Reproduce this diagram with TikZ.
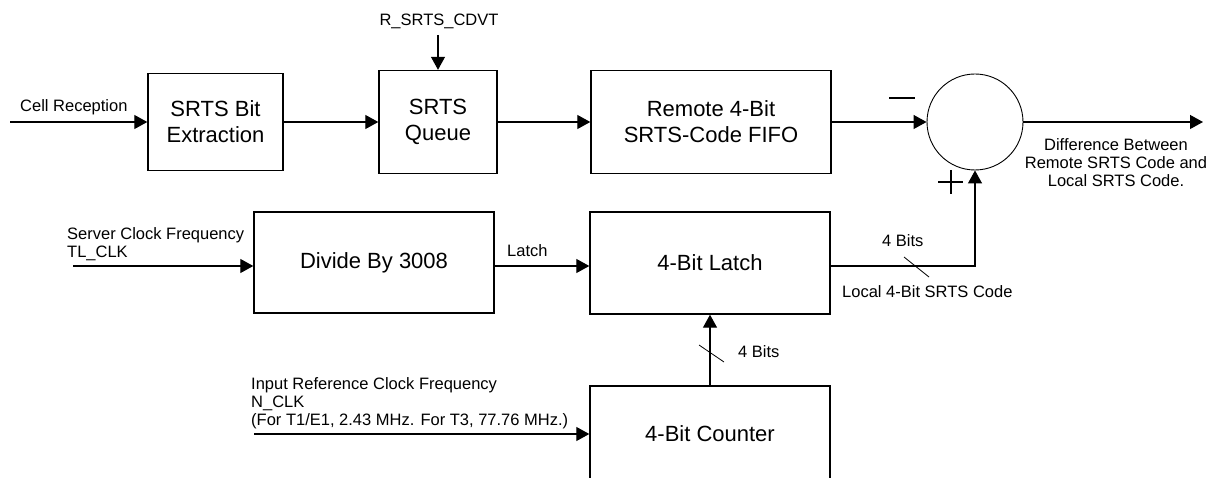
\documentclass[tikz,border=0pt]{standalone}
\usepackage{fontspec}
\setmainfont{Liberation Sans}
\usetikzlibrary{arrows.meta}
\newcommand{\smallf}{\fontsize{16.5}{18}\selectfont}
\newcommand{\bigf}{\fontsize{22}{26}\selectfont}
\begin{document}
\begin{tikzpicture}[x=1pt,y=-1pt,
  box/.style={draw,line width=1.4pt,inner sep=0pt,align=center,font=\bigf},
  sumc/.style={circle,draw,line width=0.9pt,minimum size=96pt,inner sep=0pt},
  arr/.style={line width=1.2pt,-{Triangle[length=13pt,width=14pt]}},
  lbl/.style={inner sep=0pt,font=\smallf},
  thin/.style={line width=0.8pt},
  sign/.style={line width=1.1pt}]
\useasboundingbox (0,0) rectangle (1210,478);
\clip (0,0) rectangle (1210,478);
% blocks
\node[box,minimum width=135pt,minimum height=97pt] (bitx) at (215.5,122) {SRTS Bit\\Extraction};
\node[box,minimum width=118pt,minimum height=103pt] (queue) at (438,122) {SRTS\\Queue};
\node[box,minimum width=240pt,minimum height=103pt] (fifo) at (711,122) {Remote 4-Bit\\SRTS-Code FIFO};
\node[sumc] (sum) at (975,122) {};
\node[box,minimum width=240pt,minimum height=101pt] (divide) at (374,262.5) {Divide By 3008};
\node[box,minimum width=240pt,minimum height=102pt] (latch) at (710,263) {4-Bit Latch};
\node[box,minimum width=240pt,minimum height=95pt] (counter) at (710,433.5) {4-Bit Counter};
% free ends
\coordinate (cellin) at (10,122);
\coordinate (cdvt) at (438,35);
\coordinate (out) at (1203,122);
\coordinate (tlin) at (73,266);
\coordinate (nin) at (254,434);
% connectors
\draw[arr] (cellin) -- (bitx.west);
\draw[arr] (bitx) -- (queue);
\draw[arr] (cdvt) -- (queue.north);
\draw[arr] (queue) -- (fifo);
\draw[arr] (fifo) -- (sum);
\draw[arr] (sum) -- (out);
\draw[arr] (tlin) -- (tlin -| divide.west);
\draw[arr] (tlin -| divide.east) -- (tlin -| latch.west);
\draw[arr] (tlin -| latch.east) -| (sum.south);
\draw[arr] (nin) -- (nin -| counter.west);
\draw[arr] (counter) -- (latch);
% bus slashes
\draw[thin] (904,257) -- (929,277);
\draw[thin] (699,345) -- (724,362);
% signs
\draw[sign] (889,98) -- (915,98);
\draw[sign] (938,182) -- (963,182);
\draw[sign] (951,170) -- (951,194);
% labels
\node[lbl,anchor=base west] (lcell) at (20,112) {Cell Reception};
\node[lbl,anchor=base] (lcdvt) at (439,26) {R\_SRTS\_CDVT};
\node[lbl,anchor=base west] (lsrv1) at (67,240) {Server Clock Frequency};
\node[lbl,anchor=base west] (lsrv2) at (67,258) {TL\_CLK};
\node[lbl,anchor=base west] (llatch) at (507,257) {Latch};
\node[lbl,anchor=base west] (lin1) at (251,389) {Input Reference Clock Frequency};
\node[lbl,anchor=base west] (lin2) at (251,407) {N\_CLK};
\node[lbl,anchor=base west] (lin3) at (251,425) {(For T1/E1, 2.43 MHz. For T3, 77.76 MHz.)};
\node[lbl,anchor=base west] (lbits1) at (882,247) {4 Bits};
\node[lbl,anchor=base west] (llocal) at (842,298) {Local 4-Bit SRTS Code};
\node[lbl,anchor=base west] (lbits2) at (738,357) {4 Bits};
\node[lbl,anchor=base] (ldiff1) at (1116,151) {Difference Between};
\node[lbl,anchor=base] (ldiff2) at (1116,169) {Remote SRTS Code and};
\node[lbl,anchor=base] (ldiff3) at (1116,187) {Local SRTS Code.};
\end{tikzpicture}
\end{document}
